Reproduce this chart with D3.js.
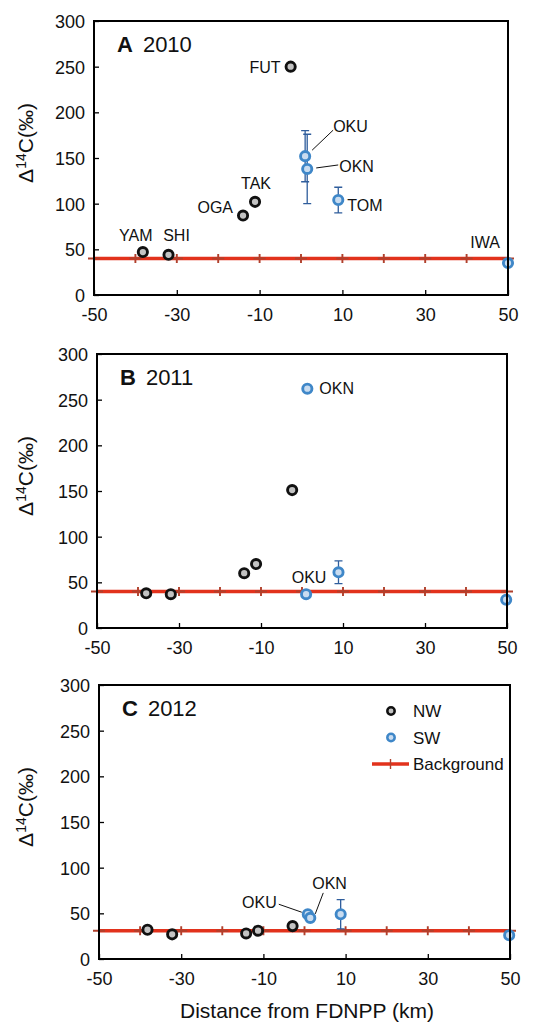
<!DOCTYPE html>
<html>
<head>
<meta charset="utf-8">
<script src="https://cdn.jsdelivr.net/npm/d3@7"></script>
<style>
  html, body { margin: 0; padding: 0; background: #fff; }
  svg { display: block; font-family: "Liberation Sans", Arial, sans-serif; }
</style>
</head>
<body>
<svg id="chart" width="546" height="1024"></svg>
<script>
// ---- data ----
const xTicks = [-50, -30, -10, 10, 30, 50];
const yTicks = [0, 50, 100, 150, 200, 250, 300];
const bgMarks = [-50, -40, -30, -20, -10, 0, 10, 20, 30, 40, 50];
const years = ['2010', '2011', '2012'];
const letters = ['A', 'B', 'C'];
const background = [40, 40, 31];

const nw2010 = [
  { site: 'YAM', x: -38.2, y: 47 },
  { site: 'SHI', x: -32, y: 44 },
  { site: 'OGA', x: -14, y: 87 },
  { site: 'TAK', x: -11.1, y: 102 },
  { site: 'FUT', x: -2.5, y: 250 }
];
const sw2010 = [
  { site: 'OKU', x: 1.0, y: 152, err: 28 },
  { site: 'OKN', x: 1.5, y: 138, err: 38 },
  { site: 'TOM', x: 9.0, y: 104, err: 14 },
  { site: 'IWA', x: 50, y: 35, err: 0 }
];
const nw2011 = [
  { site: 'YAM', x: -38, y: 38 },
  { site: 'SHI', x: -32, y: 37 },
  { site: 'OGA', x: -14.1, y: 60 },
  { site: 'TAK', x: -11.2, y: 70 },
  { site: 'FUT', x: -2.4, y: 151 }
];
const sw2011 = [
  { site: 'OKN', x: 1.3, y: 262, err: 0 },
  { site: 'OKU', x: 1.0, y: 37, err: 0 },
  { site: 'TOM', x: 8.9, y: 61, err: 12.5 },
  { site: 'IWA', x: 49.8, y: 31, err: 0 }
];
const nw2012 = [
  { site: 'YAM', x: -38.2, y: 32 },
  { site: 'SHI', x: -32.2, y: 27 },
  { site: 'OGA', x: -14.2, y: 28 },
  { site: 'TAK', x: -11.3, y: 31 },
  { site: 'FUT', x: -2.9, y: 36 }
];
const sw2012 = [
  { site: 'OKU', x: 0.8, y: 49, err: 0 },
  { site: 'OKN', x: 1.4, y: 45, err: 0 },
  { site: 'TOM', x: 8.8, y: 49, err: 16 },
  { site: 'IWA', x: 49.8, y: 26, err: 0 }
];
const nwByYear = [nw2010, nw2011, nw2012];
const swByYear = [sw2010, sw2011, sw2012];

// ---- layout / styling ----
const panels = [
  { left: 94, top: 21, w: 414, h: 274 },
  { left: 97, top: 354, w: 410, h: 274 },
  { left: 99, top: 685, w: 411, h: 274 }
];

// label placement (pixel offsets from the point)
const labelSpots = [
  [
    { site: 'FUT', dx: -10, dy: 6, anchor: 'end' },
    { site: 'YAM', dx: -7, dy: -11, anchor: 'middle' },
    { site: 'SHI', dx: 8, dy: -14, anchor: 'middle' },
    { site: 'OGA', dx: -10, dy: -3, anchor: 'end' },
    { site: 'TAK', dx: 1, dy: -13, anchor: 'middle' },
    { site: 'OKU', dx: 28, dy: -24, anchor: 'start', leader: [7, -6, 28, -26] },
    { site: 'OKN', dx: 32, dy: 3, anchor: 'start', leader: [9, -1, 31, -4] },
    { site: 'TOM', dx: 9, dy: 11, anchor: 'start' },
    { site: 'IWA', dx: -23, dy: -15, anchor: 'middle' }
  ],
  [
    { site: 'OKN', dx: 12, dy: 5, anchor: 'start' },
    { site: 'OKU', dx: 3, dy: -11, anchor: 'middle' }
  ],
  [
    { site: 'OKU', dx: -31, dy: -6, anchor: 'end', leader: [-29, -10, -6, -2] },
    { site: 'OKN', dx: 2, dy: -29, anchor: 'start', leader: [13, -25, 5, -4] }
  ]
];

const RED = '#e2321c';
const RED_MARK = '#b0402c';
const BLUE = '#3f87c8';
const BLUE_FILL = '#c9dcf0';
const ERR = '#2f5d9c';
const NW_FILL = '#c3c3c3';

const svg = d3.select('#chart');

panels.forEach((p, i) => {
  const g = svg.append('g').attr('transform', `translate(${p.left},${p.top})`);
  const x = d3.scaleLinear().domain([-50, 50]).range([0, p.w]);
  const y = d3.scaleLinear().domain([0, 300]).range([p.h, 0]);

  // background line with + markers
  g.append('line')
    .attr('x1', x(-50)).attr('x2', x(50))
    .attr('y1', y(background[i])).attr('y2', y(background[i]))
    .attr('stroke', RED).attr('stroke-width', 3.5);

  g.selectAll('.bgm').data(bgMarks).enter().append('path')
    .attr('d', d => `M${x(d) - 6},${y(background[i])}h12M${x(d)},${y(background[i]) - 4.5}v9`)
    .attr('stroke', RED_MARK).attr('stroke-width', 1.9).attr('fill', 'none');

  // error bars
  const withErr = swByYear[i].filter(d => d.err > 0);
  withErr.forEach(d => {
    const cx = x(d.x);
    g.append('path')
      .attr('d', `M${cx},${y(d.y + d.err)}V${y(d.y - d.err)}` +
                 `M${cx - 4},${y(d.y + d.err)}h8M${cx - 4},${y(d.y - d.err)}h8`)
      .attr('stroke', ERR).attr('stroke-width', 1.3).attr('fill', 'none');
  });

  // points
  g.selectAll('.nw').data(nwByYear[i]).enter().append('circle')
    .attr('cx', d => x(d.x)).attr('cy', d => y(d.y)).attr('r', 4.6)
    .attr('fill', NW_FILL).attr('stroke', '#111').attr('stroke-width', 2.9);

  g.selectAll('.sw').data(swByYear[i]).enter().append('circle')
    .attr('cx', d => x(d.x)).attr('cy', d => y(d.y)).attr('r', 4.6)
    .attr('fill', BLUE_FILL).attr('stroke', BLUE).attr('stroke-width', 2.9);

  // point labels
  const all = nwByYear[i].concat(swByYear[i]);
  labelSpots[i].forEach(l => {
    const d = all.find(a => a.site === l.site);
    const px = x(d.x), py = y(d.y);
    if (l.leader) {
      g.append('line')
        .attr('x1', px + l.leader[0]).attr('y1', py + l.leader[1])
        .attr('x2', px + l.leader[2]).attr('y2', py + l.leader[3])
        .attr('stroke', '#111').attr('stroke-width', 1);
    }
    g.append('text')
      .attr('x', px + l.dx).attr('y', py + l.dy)
      .attr('text-anchor', l.anchor)
      .attr('font-size', 16).attr('fill', '#111')
      .text(d.site);
  });

  // frame
  g.append('rect').attr('width', p.w).attr('height', p.h)
    .attr('fill', 'none').attr('stroke', '#000').attr('stroke-width', 2);

  // axes (inside ticks), plain hyphen minus like the original
  const xAxis = g.append('g').attr('transform', `translate(0,${p.h})`)
    .call(d3.axisBottom(x).tickValues(xTicks).tickSize(-5).tickPadding(13)
      .tickFormat(d => String(d)));
  const yAxis = g.append('g')
    .call(d3.axisLeft(y).tickValues(yTicks).tickSize(-5).tickPadding(9));
  [xAxis, yAxis].forEach(a => {
    a.select('.domain').remove();
    a.selectAll('.tick line').attr('stroke', '#000').attr('stroke-width', 1.3);
    a.selectAll('text').attr('font-size', 18).attr('fill', '#111')
      .attr('font-family', '"Liberation Sans", Arial, sans-serif');
  });
  yAxis.selectAll('text').attr('dy', '0.36em');

  // panel title
  const t = g.append('text').attr('x', 23).attr('y', 31).attr('font-size', 22).attr('fill', '#111');
  t.append('tspan').attr('font-weight', 'bold').text(letters[i]);
  t.append('tspan').attr('dx', 10).text(years[i]);

  // y-axis title
  const yt = svg.append('text')
    .attr('transform', `translate(33,${p.top + 122}) rotate(-90)`)
    .attr('text-anchor', 'middle').attr('font-size', 21).attr('fill', '#111');
  yt.append('tspan').text('Δ');
  yt.append('tspan').attr('font-size', 14).attr('dy', -7).text('14');
  yt.append('tspan').attr('dy', 7).text('C(‰)');
});

// legend in panel C
const lp = panels[2];
const lg = svg.append('g').attr('transform', `translate(${lp.left},${lp.top})`);
const legendItems = ['NW', 'SW', 'Background'];
const ly = d3.scalePoint().domain(legendItems).range([26, 79]);
lg.append('circle').attr('cx', 292).attr('cy', ly('NW')).attr('r', 3.7)
  .attr('fill', NW_FILL).attr('stroke', '#111').attr('stroke-width', 2.5);
lg.append('circle').attr('cx', 292).attr('cy', ly('SW')).attr('r', 3.7)
  .attr('fill', BLUE_FILL).attr('stroke', BLUE).attr('stroke-width', 2.5);
lg.append('line').attr('x1', 273).attr('x2', 310)
  .attr('y1', ly('Background')).attr('y2', ly('Background'))
  .attr('stroke', RED).attr('stroke-width', 3.5);
lg.append('path').attr('d', `M291.5,${ly('Background') - 5}v10`)
  .attr('stroke', RED_MARK).attr('stroke-width', 1.4);
lg.selectAll('.lt').data(legendItems).enter().append('text')
  .attr('x', 314).attr('y', d => ly(d) + 6)
  .attr('font-size', 17).attr('fill', '#111').text(d => d);

// x-axis title
svg.append('text').attr('x', 307).attr('y', 1018)
  .attr('text-anchor', 'middle').attr('font-size', 21).attr('fill', '#111')
  .text('Distance from FDNPP (km)');
</script>
</body>
</html>
